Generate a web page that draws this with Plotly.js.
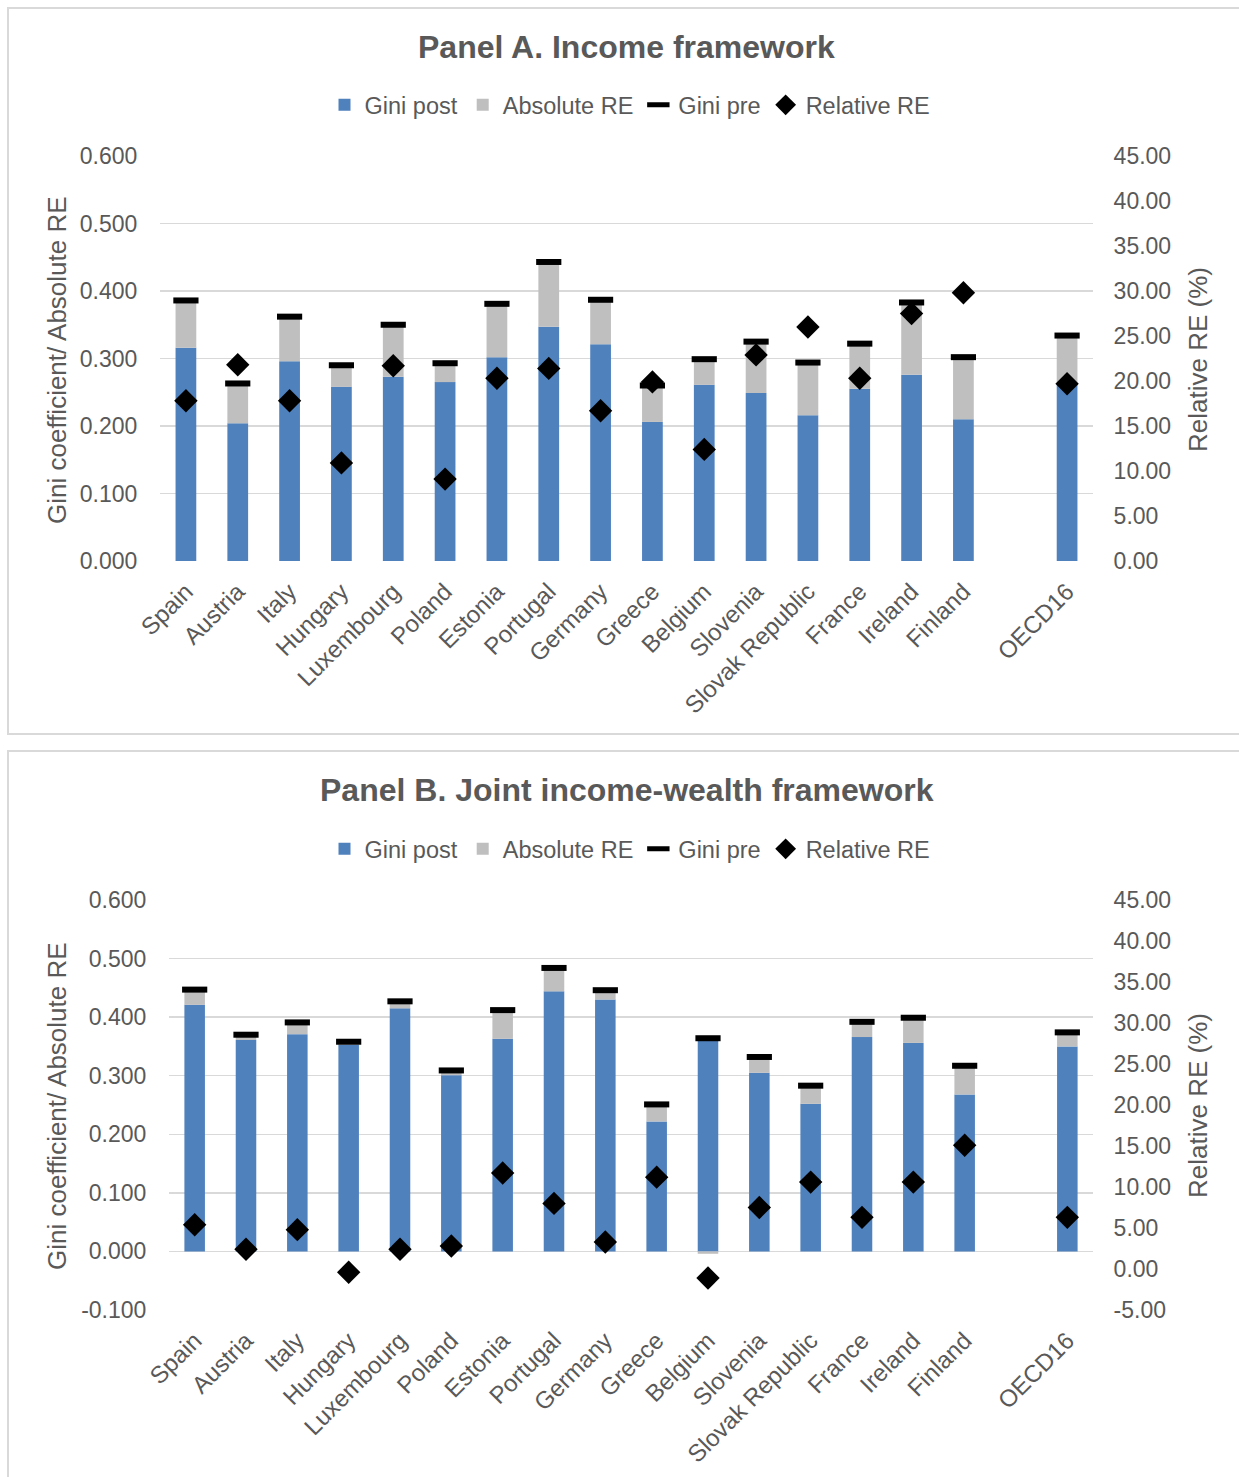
<!DOCTYPE html>
<html>
<head>
<meta charset="utf-8">
<script src="https://cdn.plot.ly/plotly-3.0.1.min.js"></script>
<style>
  html, body { margin: 0; padding: 0; background: #ffffff; }
  #chart { width: 1239px; height: 1477px; }
</style>
</head>
<body>
<div id="chart"></div>
<script>
// Countries (the blank slot separates the individual countries from the OECD average)
const countries = ['Spain', 'Austria', 'Italy', 'Hungary', 'Luxembourg', 'Poland', 'Estonia',
  'Portugal', 'Germany', 'Greece', 'Belgium', 'Slovenia', 'Slovak Republic', 'France',
  'Ireland', 'Finland', ' ', 'OECD16'];

// Panel A. Income framework
const giniPostA = [0.316, 0.204, 0.296, 0.258, 0.273, 0.265, 0.302, 0.347, 0.321, 0.206,
  0.261, 0.249, 0.216, 0.255, 0.276, 0.210, null, 0.263];
const absREA = [0.070, 0.059, 0.066, 0.032, 0.077, 0.028, 0.079, 0.096, 0.066, 0.054,
  0.038, 0.076, 0.078, 0.067, 0.107, 0.092, null, 0.071];
const giniPreA = [0.386, 0.263, 0.362, 0.290, 0.350, 0.293, 0.381, 0.443, 0.387, 0.260,
  0.299, 0.325, 0.294, 0.322, 0.383, 0.302, null, 0.334];
const relREA = [17.8, 21.8, 17.8, 10.9, 21.7, 9.1, 20.3, 21.4, 16.7, 19.9,
  12.4, 22.9, 26.0, 20.3, 27.5, 29.8, null, 19.7];

// Panel B. Joint income-wealth framework
const giniPostB = [0.421, 0.361, 0.371, 0.353, 0.415, 0.301, 0.363, 0.444, 0.430, 0.222,
  0.361, 0.305, 0.252, 0.366, 0.356, 0.268, null, 0.350];
const absREB = [0.026, 0.009, 0.020, 0.005, 0.012, 0.008, 0.049, 0.040, 0.016, 0.029,
  -0.004, 0.027, 0.031, 0.026, 0.043, 0.049, null, 0.024];
const giniPreB = [0.447, 0.370, 0.391, 0.358, 0.427, 0.309, 0.412, 0.484, 0.446, 0.251,
  0.364, 0.332, 0.283, 0.392, 0.399, 0.317, null, 0.374];
const relREB = [5.4, 2.4, 4.8, -0.4, 2.4, 2.8, 11.7, 8.0, 3.3, 11.2,
  -1.1, 7.5, 10.6, 6.3, 10.6, 15.1, null, 6.3];

// Axis tick values
const giniTicksA = [0, 0.1, 0.2, 0.3, 0.4, 0.5, 0.6];
const relTicksA = [0, 5, 10, 15, 20, 25, 30, 35, 40, 45];
const giniTicksB = [-0.1, 0, 0.1, 0.2, 0.3, 0.4, 0.5, 0.6];
const relTicksB = [-5, 0, 5, 10, 15, 20, 25, 30, 35, 40, 45];

const seriesNames = ['Gini post', 'Absolute RE', 'Gini pre', 'Relative RE'];

const W = 1239, H = 1477;
const px = v => v / W;            // horizontal pixel -> paper
const py = v => 1 - v / H;        // vertical pixel (from top) -> paper

const FONT = 'Liberation Sans, Arial, sans-serif';
const TXT = '#595959';
const BLUE = '#4F81BD';
const GREY = '#BFBFBF';
const GRID = '#D9D9D9';

function panelTraces(xa, yLeft, yRight, legendId, post, abs, pre, rel) {
  return [
    { type: 'bar', name: seriesNames[0], x: countries, y: post, xaxis: xa, yaxis: yLeft,
      marker: { color: BLUE }, legend: legendId, hoverinfo: 'x+y' },
    { type: 'bar', name: seriesNames[1], x: countries, y: abs, xaxis: xa, yaxis: yLeft,
      marker: { color: GREY }, legend: legendId, hoverinfo: 'x+y' },
    { type: 'scatter', mode: 'markers', name: seriesNames[2], x: countries, y: pre,
      xaxis: xa, yaxis: yLeft, legend: legendId,
      marker: { symbol: 'line-ew', size: 18, color: '#000000', line: { color: '#000000', width: 6 } } },
    { type: 'scatter', mode: 'markers', name: seriesNames[3], x: countries, y: rel,
      xaxis: xa, yaxis: yRight, legend: legendId,
      marker: { symbol: 'diamond', size: 18, color: '#000000' } }
  ];
}

const data = [
  ...panelTraces('x', 'y', 'y2', 'legend', giniPostA, absREA, giniPreA, relREA),
  ...panelTraces('x2', 'y3', 'y4', 'legend2', giniPostB, absREB, giniPreB, relREB)
];

const tickFont = { family: FONT, size: 23, color: TXT };

function xAxis(domain, anchor) {
  return {
    domain: domain, anchor: anchor, type: 'category',
    categoryorder: 'array', categoryarray: countries,
    range: [-0.5, countries.length - 0.5], autorange: false,
    tickangle: -45, tickfont: { family: FONT, size: 24, color: TXT },
    showgrid: false, zeroline: false,
    showline: false, ticks: 'outside', ticklen: 6, tickcolor: 'rgba(0,0,0,0)',
    fixedrange: true
  };
}
function leftAxis(domain, anchor, ticks) {
  return {
    domain: domain, anchor: anchor, range: [ticks[0], ticks[ticks.length - 1]], autorange: false,
    tickmode: 'array', tickvals: ticks, ticktext: ticks.map(v => v.toFixed(3)),
    tickfont: tickFont, showgrid: true, gridcolor: GRID, gridwidth: 1.5,
    zeroline: false, showline: false, ticks: 'outside', ticklen: 17,
    tickcolor: 'rgba(0,0,0,0)', fixedrange: true
  };
}
function rightAxis(overlay, anchor, ticks) {
  return {
    overlaying: overlay, anchor: anchor, side: 'right',
    range: [ticks[0], ticks[ticks.length - 1]], autorange: false,
    tickmode: 'array', tickvals: ticks, ticktext: ticks.map(v => v.toFixed(2)),
    tickfont: tickFont, showgrid: false, zeroline: false, showline: false,
    ticks: 'outside', ticklen: 15, tickcolor: 'rgba(0,0,0,0)', fixedrange: true
  };
}

const legendStyle = y => ({
  orientation: 'h', x: px(630), y: y, xanchor: 'center', yanchor: 'middle',
  font: { family: FONT, size: 23.5, color: TXT }, traceorder: 'normal',
  itemwidth: 30, bgcolor: 'rgba(0,0,0,0)'
});

const titleFont = { family: FONT, size: 32, color: TXT, weight: 'bold' };
const axisTitleFont = { family: FONT, size: 26, color: TXT };

function annotationsFor(topTitle, titleY, midY) {
  return [
    { text: '<b>' + topTitle + '</b>', x: px(627), y: py(titleY), xref: 'paper', yref: 'paper',
      showarrow: false, xanchor: 'center', yanchor: 'middle', font: titleFont },
    { text: 'Gini coefficient/ Absolute RE', x: px(57), y: py(midY), xref: 'paper', yref: 'paper',
      showarrow: false, textangle: -90, xanchor: 'center', yanchor: 'middle', font: axisTitleFont },
    { text: 'Relative RE (%)', x: px(1198), y: py(midY), xref: 'paper', yref: 'paper',
      showarrow: false, textangle: -90, xanchor: 'center', yanchor: 'middle', font: axisTitleFont }
  ];
}

const layout = {
  width: W, height: H,
  margin: { l: 0, r: 0, t: 0, b: 0 },
  paper_bgcolor: '#ffffff', plot_bgcolor: 'rgba(0,0,0,0)',
  barmode: 'relative', bargap: 0.6,
  showlegend: true,
  font: { family: FONT, color: TXT },
  xaxis: xAxis([px(160), px(1093)], 'y'),
  yaxis: leftAxis([py(561), py(156)], 'x', giniTicksA),
  yaxis2: rightAxis('y', 'x', relTicksA),
  xaxis2: xAxis([px(169), px(1093)], 'y3'),
  yaxis3: leftAxis([py(1310), py(900)], 'x2', giniTicksB),
  yaxis4: rightAxis('y3', 'x2', relTicksB),
  legend: legendStyle(py(105)),
  legend2: legendStyle(py(849)),
  annotations: [
    ...annotationsFor('Panel A. Income framework', 47, 360),
    ...annotationsFor('Panel B. Joint income-wealth framework', 790, 1106)
  ],
  shapes: [
    { type: 'rect', xref: 'paper', yref: 'paper', x0: px(8), x1: px(1250), y0: py(734), y1: py(8),
      line: { color: GRID, width: 2 }, fillcolor: 'rgba(0,0,0,0)', layer: 'below' },
    { type: 'rect', xref: 'paper', yref: 'paper', x0: px(8), x1: px(1250), y0: py(1490), y1: py(751),
      line: { color: GRID, width: 2 }, fillcolor: 'rgba(0,0,0,0)', layer: 'below' }
  ]
};

Plotly.newPlot('chart', data, layout, { displayModeBar: false, staticPlot: true });
</script>
</body>
</html>
